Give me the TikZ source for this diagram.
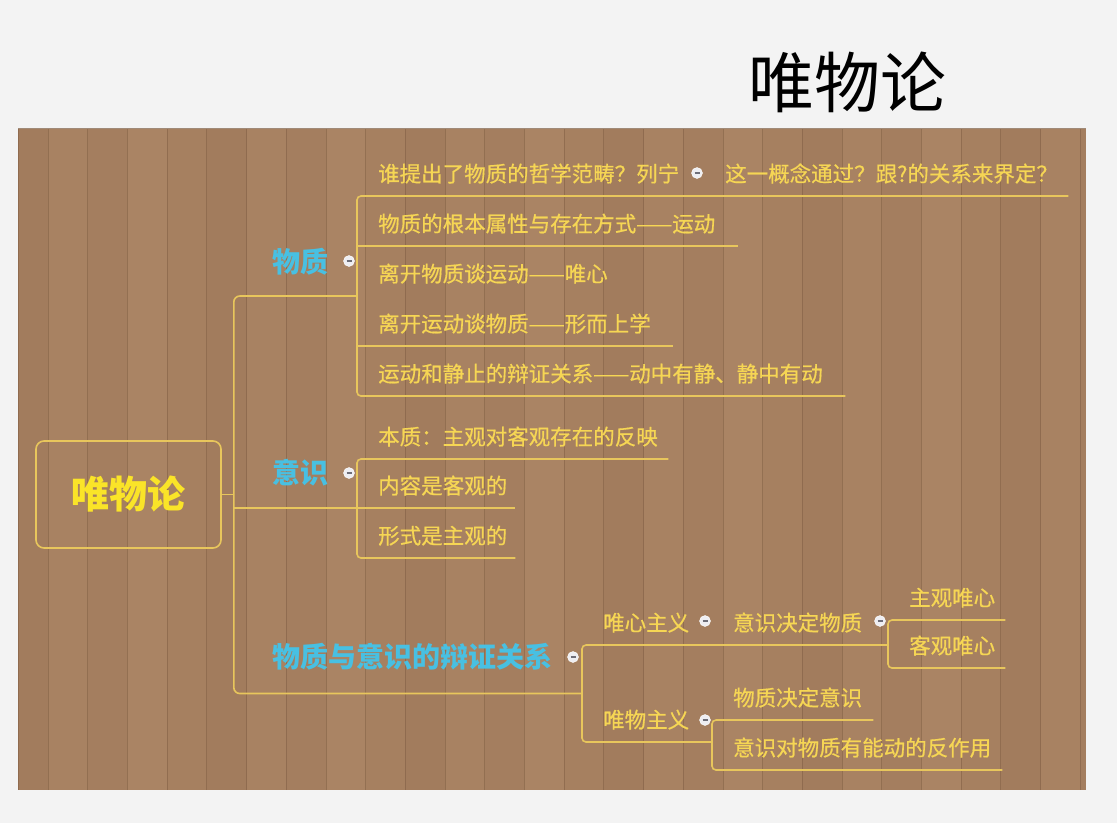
\documentclass[tikz,border=0pt]{standalone}
\usepackage{fontspec}
\usetikzlibrary{calc}
\newfontfamily\cjk{Noto Sans CJK SC}
\newfontfamily\cjkm[FakeBold=0.6]{Noto Sans CJK SC}
\definecolor{paper}{RGB}{243,243,243}
\definecolor{woodA}{RGB}{170,132,100}
\definecolor{woodB}{RGB}{158,120,90}
\definecolor{grain}{RGB}{120,88,62}
\definecolor{linecol}{RGB}{232,198,92}
\definecolor{txtcol}{RGB}{246,214,84}
\definecolor{rootcol}{RGB}{250,228,40}
\definecolor{cyancol}{RGB}{72,192,226}
\definecolor{dotcol}{RGB}{238,238,242}
\definecolor{dotmin}{RGB}{110,110,120}
\begin{document}
\begin{tikzpicture}[x=1pt,y=-1pt,
    branch/.style={draw=linecol,line width=1.6pt},
    topic/.style={anchor=south west,inner sep=0pt,text width=#1,align=left,
      text height=20pt,text depth=14pt,text=txtcol,
      font=\cjkm\fontsize{21.5pt}{24pt}\selectfont,
      execute at begin node={\hspace*{21pt}}},
    mainlbl/.style={anchor=west,inner sep=0pt,text=cyancol,
      font=\cjk\bfseries\fontsize{28pt}{30pt}\selectfont},
    dot/.style={circle,fill=dotcol,draw=white,minimum size=11pt,inner sep=0pt,
      execute at begin node={\color{dotmin}\rule{5pt}{1.2pt}}}]
        \useasboundingbox (0,0) rectangle (1117,823);
        \fill[paper] (0,0) rectangle (1117,823);
        %% Wood
        \foreach \i in {0,...,27} {
            \pgfmathsetmacro\xl{max(18,8.3+39.7*\i)}
            \pgfmathsetmacro\xr{min(1086,48+39.7*\i)}
            \pgfmathsetmacro\m{int(30+17*mod(\i*3,5))}
            \fill[woodA!\m!woodB] (\xl,128) rectangle (\xr,790);
            \draw[grain,line width=0.8pt,opacity=0.45] (\xl,128) -- (\xl,790);
        }
        \draw[grain!70,line width=1pt] (18,128) -- (1086,128);
        %% Title
        \node[font=\cjk\fontsize{66pt}{70pt}\selectfont] (title) at (847,82) {唯物论};
        %% Root
        \node[draw=linecol,line width=1.6pt,rounded corners=8pt,minimum width=185pt,
          minimum height=107pt,text=rootcol,
          font=\cjk\bfseries\fontsize{38pt}{40pt}\selectfont] (root) at (128.5,494.5) {唯物论};
        %% Matter
        \node[mainlbl] (wz) at (272,262) {物质};
        \node[dot] (dwz) at (349,261) {};
        \node[topic=333] (q1) at (357,196) {谁提出了物质的哲学范畴？列宁};
        \node[dot] (dq1) at (697,173) {};
        \node[topic=364] (q1b) at (704,196) {这一概念通过？跟?的关系来界定？};
        \node[topic=381] (q2) at (357,246) {物质的根本属性与存在方式——运动};
        \node[topic=273] (q3) at (357,296) {离开物质谈运动——唯心};
        \node[topic=316] (q4) at (357,346) {离开运动谈物质——形而上学};
        \node[topic=488] (q5) at (357,396) {运动和静止的辩证关系——动中有静、静中有动};
        \draw[branch] (q2.south west) -- (q2.south east);
        \draw[branch] (q4.south west) -- (q4.south east);
        \draw[branch,rounded corners=4pt] (q1b.south east) -- (q1.south west) -- (q5.south west) -- (q5.south east);
        %% Consciousness
        \node[mainlbl] (ys) at (272,473) {意识};
        \node[dot] (dys) at (349,473) {};
        \node[topic=311] (r1) at (357,459) {本质：主观对客观存在的反映};
        \node[topic=158] (r2) at (357,508) {内容是客观的};
        \node[topic=158] (r3) at (357,558) {形式是主观的};
        \draw[branch] (r2.south west) -- (r2.south east);
        \draw[branch,rounded corners=4pt] (r1.south east) -- (r1.south west) -- (r3.south west) -- (r3.south east);
        %% Dialectic relation
        \node[mainlbl] (bz) at (272,657) {物质与意识的辩证关系};
        \node[dot] (dbz) at (573,657) {};
        \node[topic=118] (wx) at (582,645) {唯心主义};
        \node[dot] (dwx) at (705,621) {};
        \node[topic=176] (yj) at (712,645) {意识决定物质};
        \node[dot] (dyj) at (880,621) {};
        \node[topic=117] (s1) at (888,620) {主观唯心};
        \node[topic=117] (s2) at (888,668) {客观唯心};
        \node[topic=130] (ww) at (582,742) {唯物主义};
        \node[dot] (dww) at (705,720) {};
        \node[topic=161] (t1) at (712,720) {物质决定意识};
        \node[topic=290] (t2) at (712,770) {意识对物质有能动的反作用};
        \draw[branch,rounded corners=4pt] (yj.south east) -- (wx.south west) -- (ww.south west) -- (ww.south east);
        \draw[branch,rounded corners=4pt] (s1.south east) -- (s1.south west) -- (s2.south west) -- (s2.south east);
        \draw[branch,rounded corners=4pt] (t1.south east) -- (t1.south west) -- (t2.south west) -- (t2.south east);
        %% Main branches
        \draw[branch] (root.east) -- ++(12,0) coordinate (hub);
        \coordinate (j3) at ($(wx.south west)!0.5!(ww.south west)$);
        \draw[branch,rounded corners=6pt] (q3.south west) -| (hub) |- (j3);
        \draw[branch] (hub |- r2.south west) -- (r2.south west);
    \end{tikzpicture}
\end{document}
